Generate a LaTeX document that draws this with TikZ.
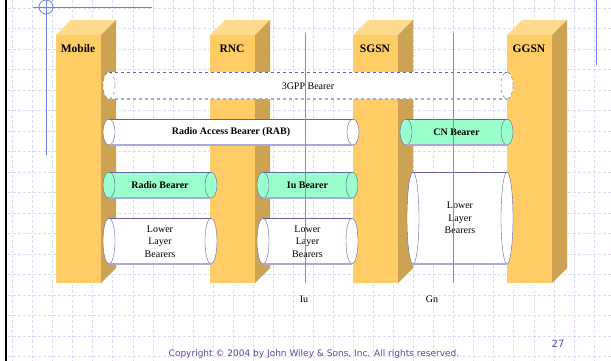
\documentclass[tikz,border=0pt]{standalone}
\usepackage{fontspec}
\setmainfont{Liberation Serif}
\newfontfamily\copyfont{DejaVu Sans}
\usetikzlibrary{positioning}
\definecolor{pillarfront}{RGB}{255,204,102}
\definecolor{pillartop}{RGB}{255,218,140}
\definecolor{pillarside}{RGB}{204,163,82}
\definecolor{bearergreen}{RGB}{153,255,204}
\definecolor{tubeline}{RGB}{100,100,160}
\definecolor{tubeshade}{RGB}{170,170,215}
\definecolor{gridblue}{RGB}{212,220,248}
\definecolor{markblue}{RGB}{110,125,225}
\definecolor{copyblue}{RGB}{80,80,150}
\definecolor{ifaceline}{RGB}{140,140,165}

% pillar: #1 = left x of the front face
\newcommand{\pillar}[1]{%
  \fill[pillarfront] (#1,35) rectangle ({#1+45},283);
  \fill[pillartop] (#1,35) -- ({#1+15},20) -- ({#1+60},20) -- ({#1+45},35) -- cycle;
  \fill[pillarside] ({#1+45},35) -- ({#1+60},20) -- ({#1+60},268) -- ({#1+45},283) -- cycle;
}
% tube: #1 left x, #2 right x, #3 centre y, #4 half height, #5 fill, #6 line style
\newcommand{\bearertube}[6]{%
  \fill[#5] (#1,{#3-#4}) rectangle (#2,{#3+#4});
  \draw[tubeline, fill=#5, #6] (#1,#3) ellipse [x radius=6pt, y radius=#4pt];
  \draw[tubeline, fill=#5, #6] (#2,#3) ellipse [x radius=6pt, y radius=#4pt];
  \draw[tubeline, #6] (#1,{#3-#4}) -- (#2,{#3-#4});
  \draw[tubeshade, line width=1.2pt, #6] (#1,{#3+#4}) -- (#2,{#3+#4});
}

\begin{document}
\begin{tikzpicture}[
                x=1pt, y=-1pt,
                gridline/.style={gridblue, line width=0.6pt, dash pattern=on 3pt off 2pt},
                pillarlabel/.style={font=\fontsize{11.5}{13}\selectfont\bfseries, inner sep=0pt},
                tubelabel/.style={font=\fontsize{10}{12}\selectfont\bfseries, inner sep=0pt},
                layerlabel/.style={font=\fontsize{10}{12.5}\selectfont, align=center, inner sep=0pt},
                ifacelabel/.style={font=\fontsize{10}{12}\selectfont, inner sep=0pt},
                iface/.style={ifaceline, line width=0.5pt},
                footer/.style={font=\copyfont\fontsize{9}{11}\selectfont, text=copyblue, inner sep=0pt}
            ]%
            \useasboundingbox[fill=white] (0,0) rectangle (611,361);
            %
            % background grid
            \foreach \i in {0,...,29}
                \draw[gridline] ({12.5+20.05*\i},0) -- ++(0,361);
            \foreach \j in {0,...,17}
                \draw[gridline] (8,{8+20.5*\j}) -- (611,{8+20.5*\j});
            %
            % slide frame
            \draw[black, line width=2pt] (6,0) -- (6,361);
            \draw[markblue, line width=0.8pt] (46,0) -- (46,155);
            \draw[markblue, line width=0.8pt] (33,7) -- (152,7);
            \draw[markblue, line width=0.8pt] (46,7) circle [radius=7pt];
            \draw[markblue, line width=0.8pt] (596,0) -- (596,65);
            %
            % === network elements ===
            \pillar{56}
            \pillar{210}
            \pillar{353}
            \pillar{507}
            \node[pillarlabel] (mobile) at (78,49) {Mobile};
            \node[pillarlabel] (rnc) at (232,49) {RNC};
            \node[pillarlabel] (sgsn) at (375,49) {SGSN};
            \node[pillarlabel] (ggsn) at (529,49) {GGSN};
            %
            % === bearers ===
            \bearertube{109}{507}{85.5}{13.5}{white}{dashed}
            \node[ifacelabel] (gppbearer) at (308,86) {3GPP Bearer};
            %
            \bearertube{109}{353}{132}{13}{white}{}
            \node[tubelabel] (rab) at (231,132) {Radio Access Bearer (RAB)};
            \bearertube{406}{507}{132}{13}{bearergreen}{}
            \node[tubelabel] (cnbearer) at (456.5,132) {CN Bearer};
            %
            \bearertube{109}{211}{185}{13}{bearergreen}{}
            \node[tubelabel] (radiobearer) at (160,185) {Radio Bearer};
            \bearertube{263}{352}{185}{13}{bearergreen}{}
            \node[tubelabel] (iubearer) at (307.5,185) {Iu Bearer};
            %
            \bearertube{109}{211}{241}{23}{white}{}
            \node[layerlabel] (lowerradio) at (160,241.5) {Lower\\Layer\\Bearers};
            \bearertube{263}{352}{241}{23}{white}{}
            \node[layerlabel] (loweriu) at (307.5,241.5) {Lower\\Layer\\Bearers};
            \bearertube{413}{507}{218}{46}{white}{}
            \node[layerlabel] (lowergn) at (460,218) {Lower\\Layer\\Bearers};
            %
            % interfaces
            \coordinate (iutop) at (305,33);
            \coordinate (iubot) at (305,283);
            \coordinate (gntop) at (453,33);
            \coordinate (gnbot) at (453,283);
            \draw[iface] (iutop) -- (iubot);
            \draw[iface] (gntop) -- (gnbot);
            \node[ifacelabel] (iu) at (304,299) {Iu};
            \node[ifacelabel] (gn) at (432,299) {Gn};
            %
            % footer
            \node[footer] (copyright) at (314,354) {Copyright © 2004 by John Wiley \& Sons, Inc. All rights reserved.};
            \node[footer, font=\copyfont\fontsize{10}{12}\selectfont] (pageno) at (558,344) {27};
        \end{tikzpicture}
\end{document}
